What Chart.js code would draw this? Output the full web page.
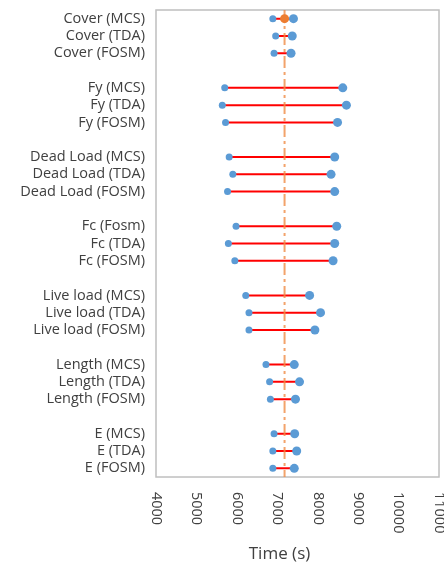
<!DOCTYPE html>
<html>
<head>
<meta charset="utf-8">
<script src="https://cdn.jsdelivr.net/npm/chart.js@4"></script>
<style>
  html, body { margin: 0; padding: 0; background: #fff; }
  #wrap { width: 444px; height: 567px; }
</style>
</head>
<body>
<div id="wrap"><canvas id="timeChart"></canvas></div>
<script>
// rows top to bottom, "" = gap between groups
const rowLabels = [
  "Cover (MCS)", "Cover (TDA)", "Cover (FOSM)", "",
  "Fy (MCS)", "Fy (TDA)", "Fy (FOSM)", "",
  "Dead Load (MCS)", "Dead Load (TDA)", "Dead Load (FOSM)", "",
  "Fc (Fosm)", "Fc (TDA)", "Fc (FOSM)", "",
  "Live load (MCS)", "Live load (TDA)", "Live load (FOSM)", "",
  "Length (MCS)", "Length (TDA)", "Length (FOSM)", "",
  "E (MCS)", "E (TDA)", "E (FOSM)"
];
const lowValues = [
  6890, 6960, 6920, null,
  5700, 5640, 5720, null,
  5810, 5900, 5770, null,
  5980, 5790, 5950, null,
  6220, 6300, 6300, null,
  6720, 6810, 6830, null,
  6920, 6890, 6890
];
const highValues = [
  7400, 7370, 7340, null,
  8620, 8710, 8490, null,
  8420, 8330, 8420, null,
  8470, 8420, 8380, null,
  7800, 8070, 7930, null,
  7420, 7550, 7450, null,
  7430, 7480, 7420
];
const meanTime = 7180;
const xTicks = [4000, 5000, 6000, 7000, 8000, 9000, 10000, 11000];

const lowPoints = [];
const highPoints = [];
const rangeLines = [];
rowLabels.forEach(function (label, i) {
  if (lowValues[i] === null) return;
  lowPoints.push({ x: lowValues[i], y: i });
  highPoints.push({ x: highValues[i], y: i });
  rangeLines.push({ x: lowValues[i], y: i }, { x: highValues[i], y: i }, { x: null, y: null });
});

const textColor = "#404040";
const fontFamily = "'Open Sans', sans-serif";

const extras = {
  id: "extras",
  beforeDatasetsDraw(chart) {
    const { ctx, chartArea } = chart;
    ctx.save();
    ctx.strokeStyle = "#BFBFBF";
    ctx.lineWidth = 1.5;
    ctx.strokeRect(chartArea.left, chartArea.top, chartArea.right - chartArea.left, chartArea.bottom - chartArea.top);
    ctx.restore();
  },
  afterDraw(chart) {
    const { ctx, chartArea, scales } = chart;
    ctx.save();
    ctx.fillStyle = textColor;
    ctx.font = "14.5px " + fontFamily;
    ctx.textAlign = "left";
    ctx.textBaseline = "middle";
    xTicks.forEach(function (v) {
      const px = scales.x.getPixelForValue(v);
      ctx.save();
      ctx.translate(px, chartArea.bottom + 15);
      ctx.rotate(Math.PI / 2);
      ctx.fillText(String(v), 0, 0);
      ctx.restore();
    });
    ctx.font = "17px " + fontFamily;
    ctx.textAlign = "center";
    ctx.fillText("Time (s)", (chartArea.left + chartArea.right) / 2 - 18, 554);
    ctx.restore();
  }
};

new Chart(document.getElementById("timeChart").getContext("2d"), {
  type: "scatter",
  data: {
    datasets: [
      {
        data: [{ x: meanTime, y: 0 }],
        pointRadius: 4.5,
        backgroundColor: "#ED7D31",
        borderWidth: 0,
        order: 0
      },
      {
        data: highPoints,
        pointRadius: 4.5,
        backgroundColor: "#5B9BD5",
        borderWidth: 0,
        order: 1
      },
      {
        data: lowPoints,
        pointRadius: 3.5,
        backgroundColor: "#5B9BD5",
        borderWidth: 0,
        order: 2
      },
      {
        data: [{ x: meanTime, y: -0.5 }, { x: meanTime, y: rowLabels.length - 0.5 }],
        showLine: true,
        pointRadius: 0,
        borderColor: "rgba(240,140,70,0.8)",
        borderWidth: 2,
        borderDash: [12, 4, 3, 4],
        order: 3
      },
      {
        data: rangeLines,
        showLine: true,
        spanGaps: false,
        pointRadius: 0,
        borderColor: "#FF0000",
        borderWidth: 2,
        order: 4
      }
    ]
  },
  options: {
    responsive: true,
    maintainAspectRatio: false,
    animation: false,
    layout: { padding: { top: 10, right: 5, bottom: 0, left: 0 } },
    plugins: {
      legend: { display: false },
      tooltip: { enabled: false }
    },
    scales: {
      x: {
        type: "linear",
        min: 4000,
        max: 11000,
        grid: { display: false, drawTicks: false },
        border: { display: false },
        ticks: { display: false },
        afterFit(scale) { scale.height = 90; scale.paddingLeft = 0; scale.paddingRight = 0; }
      },
      y: {
        type: "linear",
        reverse: true,
        min: -0.5,
        max: rowLabels.length - 0.5,
        grid: { display: false, drawTicks: false },
        border: { display: false },
        afterBuildTicks(scale) {
          scale.ticks = rowLabels.map(function (_, i) { return { value: i }; });
        },
        ticks: {
          autoSkip: false,
          padding: 11,
          color: textColor,
          font: { family: fontFamily, size: 14.5 },
          callback: function (v) { return rowLabels[v]; }
        },
        afterFit(scale) { scale.width = 156; scale.paddingTop = 0; scale.paddingBottom = 0; }
      }
    }
  },
  plugins: [extras]
});
</script>
</body>
</html>
